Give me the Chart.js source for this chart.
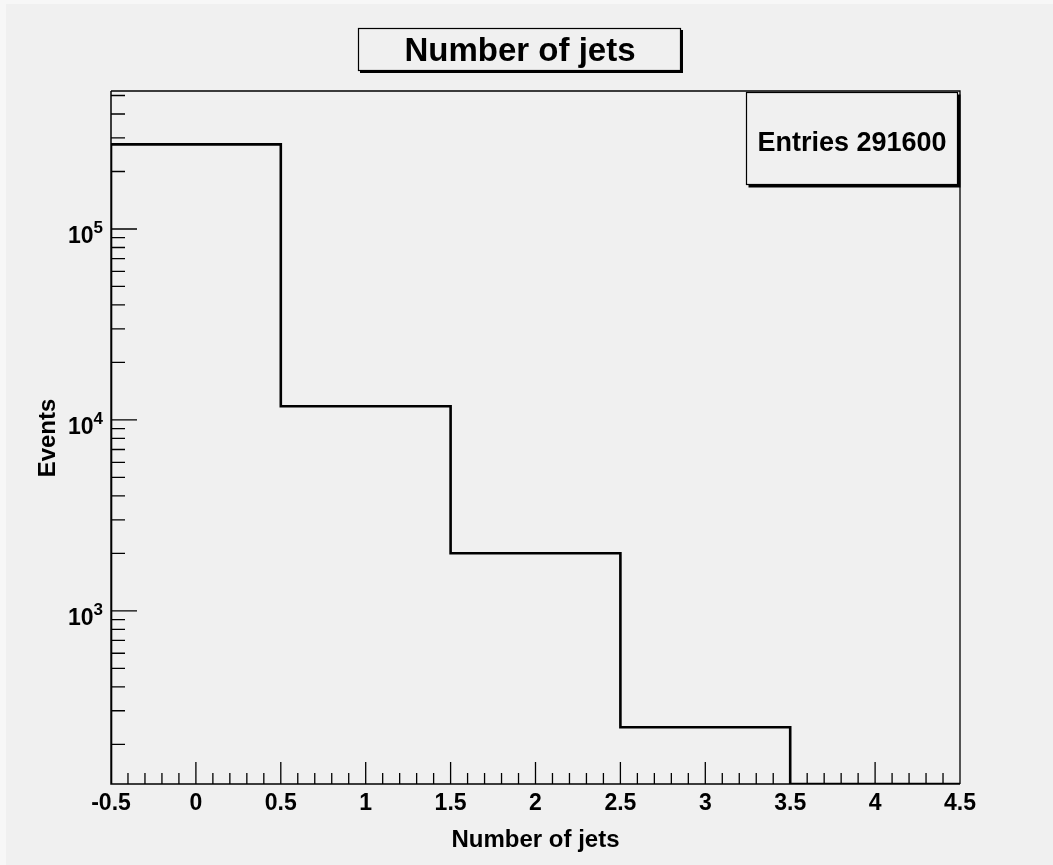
<!DOCTYPE html>
<html>
<head>
<meta charset="utf-8">
<script src="https://cdn.jsdelivr.net/npm/chart.js@4/dist/chart.umd.min.js"></script>
<style>
  html, body { margin: 0; padding: 0; background: #f0f0f0; }
  #wrap { width: 1053px; height: 865px; position: relative; }
</style>
</head>
<body>
<div id="wrap"><canvas id="c" width="1053" height="865"></canvas></div>
<script>
// ---- data ----
const binEdges = [-0.5, 0.5, 1.5, 2.5, 3.5, 4.5];
const binCounts = [277500, 11800, 2005, 246, 0];
const xTickLabels = ["-0.5", "0", "0.5", "1", "1.5", "2", "2.5", "3", "3.5", "4", "4.5"];
const xTickValues = [-0.5, 0, 0.5, 1, 1.5, 2, 2.5, 3, 3.5, 4, 4.5];
const xMinorPerMajor = 5; // divisions between major ticks
const yDecades = [100, 1000, 10000, 100000];
const yDecadeExponents = ["2", "3", "4", "5"];
const yMinorMantissas = [2, 3, 4, 5, 6, 7, 8, 9];
const xRange = [-0.5, 4.5];
const yRange = [124, 528000];
const titleText = "Number of jets";
const xTitle = "Number of jets";
const yTitle = "Events";
const statsText = "Entries 291600";

// histogram outline points built from the bins
const histPoints = [{ x: binEdges[0], y: yRange[0] }];
for (let i = 0; i < binCounts.length; i++) {
  histPoints.push({ x: binEdges[i], y: binCounts[i] > 0 ? binCounts[i] : yRange[0] });
}
histPoints.push({ x: binEdges[binEdges.length - 1], y: yRange[0] });

const FONT = '"Liberation Sans", Arial, Helvetica, sans-serif';

function boxWithShadow(ctx, x, y, w, h, sh) {
  ctx.save();
  ctx.fillStyle = "#000";
  ctx.fillRect(x + sh, y + sh, w, h);
  ctx.fillStyle = "#f0f0f0";
  ctx.fillRect(x, y, w, h);
  ctx.strokeStyle = "#000";
  ctx.lineWidth = 1.2;
  ctx.strokeRect(x + 0.5, y + 0.5, w - 1, h - 1);
  ctx.restore();
}

const rootStyle = {
  id: "rootStyle",
  beforeDraw(chart) {
    const ctx = chart.ctx;
    ctx.save();
    ctx.fillStyle = "#f0f0f0";
    ctx.fillRect(0, 0, chart.width, chart.height);
    ctx.fillStyle = "#f7f7f7";
    ctx.fillRect(0, 0, 6, chart.height);
    ctx.fillRect(0, 0, chart.width, 4);
    ctx.restore();
  },
  afterDatasetsDraw(chart) {
    const ctx = chart.ctx;
    const a = chart.chartArea;
    const xs = chart.scales.x, ys = chart.scales.y;
    ctx.save();
    ctx.strokeStyle = "#000";
    ctx.fillStyle = "#000";

    // frame top & right
    ctx.lineWidth = 1.3;
    ctx.beginPath();
    ctx.moveTo(a.left, a.top); ctx.lineTo(a.right, a.top); ctx.lineTo(a.right, a.bottom);
    ctx.stroke();

    // axes
    ctx.lineWidth = 1.5;
    ctx.beginPath();
    ctx.moveTo(a.left, a.top); ctx.lineTo(a.left, a.bottom); ctx.lineTo(a.right, a.bottom);
    ctx.stroke();

    // x ticks (inward)
    ctx.lineWidth = 1.3;
    ctx.beginPath();
    for (let i = 0; i < xTickValues.length; i++) {
      const px = xs.getPixelForValue(xTickValues[i]);
      if (i > 0 && i < xTickValues.length - 1) {
        ctx.moveTo(px, a.bottom); ctx.lineTo(px, a.bottom - 22);
      }
      if (i < xTickValues.length - 1) {
        const step = (xTickValues[i + 1] - xTickValues[i]) / xMinorPerMajor;
        for (let k = 1; k < xMinorPerMajor; k++) {
          const mx = xs.getPixelForValue(xTickValues[i] + k * step);
          ctx.moveTo(mx, a.bottom); ctx.lineTo(mx, a.bottom - 11);
        }
      }
    }
    ctx.stroke();

    // y ticks (inward)
    ctx.beginPath();
    for (const d of yDecades) {
      if (d >= yRange[0] && d <= yRange[1]) {
        const py = ys.getPixelForValue(d);
        ctx.moveTo(a.left, py); ctx.lineTo(a.left + 26, py);
      }
      for (const m of yMinorMantissas) {
        const v = d * m;
        if (v >= yRange[0] && v <= yRange[1]) {
          const py = ys.getPixelForValue(v);
          ctx.moveTo(a.left, py); ctx.lineTo(a.left + 14, py);
        }
      }
    }
    ctx.stroke();

    // x tick labels
    ctx.font = "bold 23px " + FONT;
    ctx.textAlign = "center";
    ctx.textBaseline = "alphabetic";
    xTickValues.forEach((v, i) => {
      ctx.fillText(xTickLabels[i], xs.getPixelForValue(v), a.bottom + 26);
    });

    // y tick labels 10^n
    yDecades.forEach((d, i) => {
      if (d < yRange[0] || d > yRange[1]) return;
      const py = ys.getPixelForValue(d);
      ctx.font = "bold 17px " + FONT;
      const we = ctx.measureText(yDecadeExponents[i]).width;
      ctx.font = "bold 23px " + FONT;
      const wb = ctx.measureText("10").width;
      const right = a.left - 8;
      ctx.textAlign = "left";
      ctx.fillText("10", right - we - wb, py + 14);
      ctx.font = "bold 17px " + FONT;
      ctx.fillText(yDecadeExponents[i], right - we, py + 4);
    });

    // axis titles
    ctx.font = "bold 24px " + FONT;
    ctx.textAlign = "center";
    ctx.fillText(xTitle, (a.left + a.right) / 2, a.bottom + 63);
    ctx.save();
    ctx.translate(55, 438);
    ctx.rotate(-Math.PI / 2);
    ctx.fillText(yTitle, 0, 0);
    ctx.restore();

    // title box
    boxWithShadow(ctx, 358, 28, 323, 43, 2);
    ctx.fillStyle = "#000";
    ctx.font = "bold 33px " + FONT;
    ctx.textAlign = "center";
    ctx.fillText(titleText, 520, 61);

    // stats box
    boxWithShadow(ctx, 746, 92, 212, 93, 2.5);
    ctx.fillStyle = "#000";
    ctx.font = "bold 27px " + FONT;
    ctx.textAlign = "center";
    ctx.fillText(statsText, 852, 151);

    ctx.restore();
  }
};

new Chart(document.getElementById("c"), {
  type: "line",
  data: {
    datasets: [{
      label: "Number of jets",
      data: histPoints,
      stepped: "before",
      borderColor: "#000",
      borderWidth: 2.6,
      pointRadius: 0,
      fill: false,
      tension: 0
    }]
  },
  options: {
    responsive: false,
    animation: false,
    events: [],
    layout: { padding: { left: 111, top: 91, right: 93, bottom: 81 } },
    plugins: { legend: { display: false }, tooltip: { enabled: false }, title: { display: false } },
    scales: {
      x: { type: "linear", min: xRange[0], max: xRange[1], display: false },
      y: { type: "logarithmic", min: yRange[0], max: yRange[1], display: false }
    }
  },
  plugins: [rootStyle]
});
</script>
</body>
</html>
